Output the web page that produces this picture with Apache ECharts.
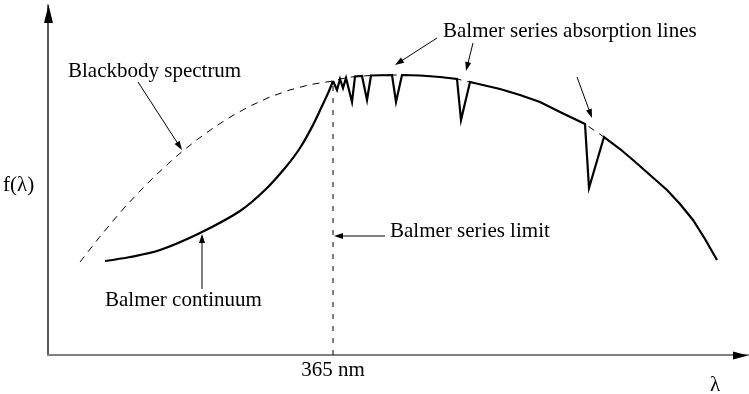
<!DOCTYPE html>
<html><head><meta charset="utf-8">
<script src="https://cdn.jsdelivr.net/npm/echarts@6/dist/echarts.min.js"></script>
<style>html,body{margin:0;padding:0;background:#fff}#c{width:749px;height:394px}</style>
</head><body><div id="c"></div>
<script>
// Schematic units (arbitrary): x = wavelength-like, y = f(lambda)
const blackbodyX = [32,50,64,77,92,107,122,134,149,167,185,202,222,242,262,285,292,298,300,307,314,323,344,354,372,392,409,422,452,472,492,512,537,556,572,585,602,619,632,645,657,669];
const blackbodyY = [93,116,133,148,164,179,193,203.4,215.3,228.3,239.6,248.9,258,265.1,270.4,274,276,277,277.5,278.5,279,279.5,280,280,279.5,278,276,273,266,260,253,243,231,218,206,195,180,165,151,135,116,95];

// Balmer continuum (short of the Balmer limit)
const continuumX = [57,82,112,152,192,217,237,252,265,275,281,285];
const continuumY = [94,98,105,122,144,165,187,207,230,251,264,274];

// Spectrum from the limit onwards, with absorption lines
const linesX = [285,289,292,295,298,300,304,307,314,319,323,344,348,354,372,392,409,413,422,452,472,492,512,537,541,556,572,585,602,619,632,645,657,669];
const linesY = [274,265,276,267,277,277.5,253,278.5,279,255,279.5,280,253,280,279.5,278,276,235,273,266,260,253,243,231,167,218,206,195,180,165,151,135,116,95];

const limitX = 285;        // 365 nm
const limitTop = 274;
const axisMaxX = 700, axisMaxY = 350;

const labelTexts = ['Blackbody spectrum','Balmer series absorption lines','Balmer series limit','Balmer continuum','365 nm','f(λ)','λ'];
const labelX = [20,395,342,57,285,-45,667];
const labelY = [284,323.5,123.5,55,-15.5,170,-30];
const labelAlign = ['left','left','left','left','center','left','center'];

const arrowFromX = [90,154,337,389,425,529];
const arrowFromY = [273,66,119,317,312,278];
const arrowToX = [134,154,286,347,418,544];
const arrowToY = [205,121,119,290,284,237];

const chart = echarts.init(document.getElementById('c'));
const font = '"Liberation Serif","Times New Roman",serif';

chart.setOption({
  animation: false,
  backgroundColor: '#fff',
  grid: {left: 48, right: 1, top: 5, bottom: 39},
  xAxis: {type: 'value', min: 0, max: axisMaxX,
    axisLine: {show: true, onZero: false, lineStyle: {color: '#808080', width: 2}},
    axisTick: {show: false}, axisLabel: {show: false}, splitLine: {show: false}},
  yAxis: {type: 'value', min: 0, max: axisMaxY,
    axisLine: {show: true, onZero: false, lineStyle: {color: '#222', width: 1.5}},
    axisTick: {show: false}, axisLabel: {show: false}, splitLine: {show: false}},
  series: [
    {type: 'line', name: 'Blackbody', data: blackbodyX.map((x, i) => [x, blackbodyY[i]]),
      symbol: 'none', lineStyle: {color: '#000', width: 1, type: [7, 6]}, z: 2},
    {type: 'line', name: 'Continuum', data: continuumX.map((x, i) => [x, continuumY[i]]),
      symbol: 'none', smooth: 0.35, lineStyle: {color: '#000', width: 2.2}, z: 3},
    {type: 'line', name: 'Lines', data: linesX.map((x, i) => [x, linesY[i]]),
      symbol: 'none', lineStyle: {color: '#000', width: 2.2, join: 'miter'}, z: 3},
    {type: 'line', name: 'Limit', data: [[limitX, 0], [limitX, limitTop]],
      symbol: 'none', lineStyle: {color: '#000', width: 1, type: [5, 7]}, z: 1}
  ]
});

function px(x, y) { return chart.convertToPixel({gridIndex: 0}, [x, y]); }
const g = [];
function arrowHead(tip, from, len, halfW) {
  const dx = tip[0] - from[0], dy = tip[1] - from[1];
  const d = Math.sqrt(dx * dx + dy * dy);
  const ux = dx / d, uy = dy / d;
  const bx = tip[0] - ux * len, by = tip[1] - uy * len;
  return [[tip[0], tip[1]], [bx - uy * halfW, by + ux * halfW], [bx + uy * halfW, by - ux * halfW]];
}
for (let i = 0; i < arrowFromX.length; i++) {
  const a = px(arrowFromX[i], arrowFromY[i]);
  const b = px(arrowToX[i], arrowToY[i]);
  const head = arrowHead(b, a, 9, 3);
  const dx = b[0] - a[0], dy = b[1] - a[1], d = Math.hypot(dx, dy);
  const e = [b[0] - dx / d * 6, b[1] - dy / d * 6];
  g.push({type: 'line', shape: {x1: a[0], y1: a[1], x2: e[0], y2: e[1]}, style: {stroke: '#000', lineWidth: 1}, z: 10});
  g.push({type: 'polygon', shape: {points: head}, style: {fill: '#000'}, z: 10});
}
// axis arrowheads
const o = px(0, 0), xe = px(axisMaxX, 0), ye = px(0, axisMaxY);
g.push({type: 'polygon', shape: {points: arrowHead([xe[0], xe[1] + 0.5], [o[0], o[1] + 0.5], 15, 4)}, style: {fill: '#000'}, z: 10});
g.push({type: 'polygon', shape: {points: arrowHead([ye[0] + 0.5, ye[1]], [o[0] + 0.5, o[1]], 18, 4.5)}, style: {fill: '#000'}, z: 10});
for (let i = 0; i < labelTexts.length; i++) {
  const p = px(labelX[i], labelY[i]);
  g.push({type: 'text', x: p[0], y: p[1], z: 11,
    style: {text: labelTexts[i], fill: '#000', font: '21px ' + font, textAlign: labelAlign[i], textVerticalAlign: 'middle'}});
}
chart.setOption({graphic: g});
</script></body></html>
